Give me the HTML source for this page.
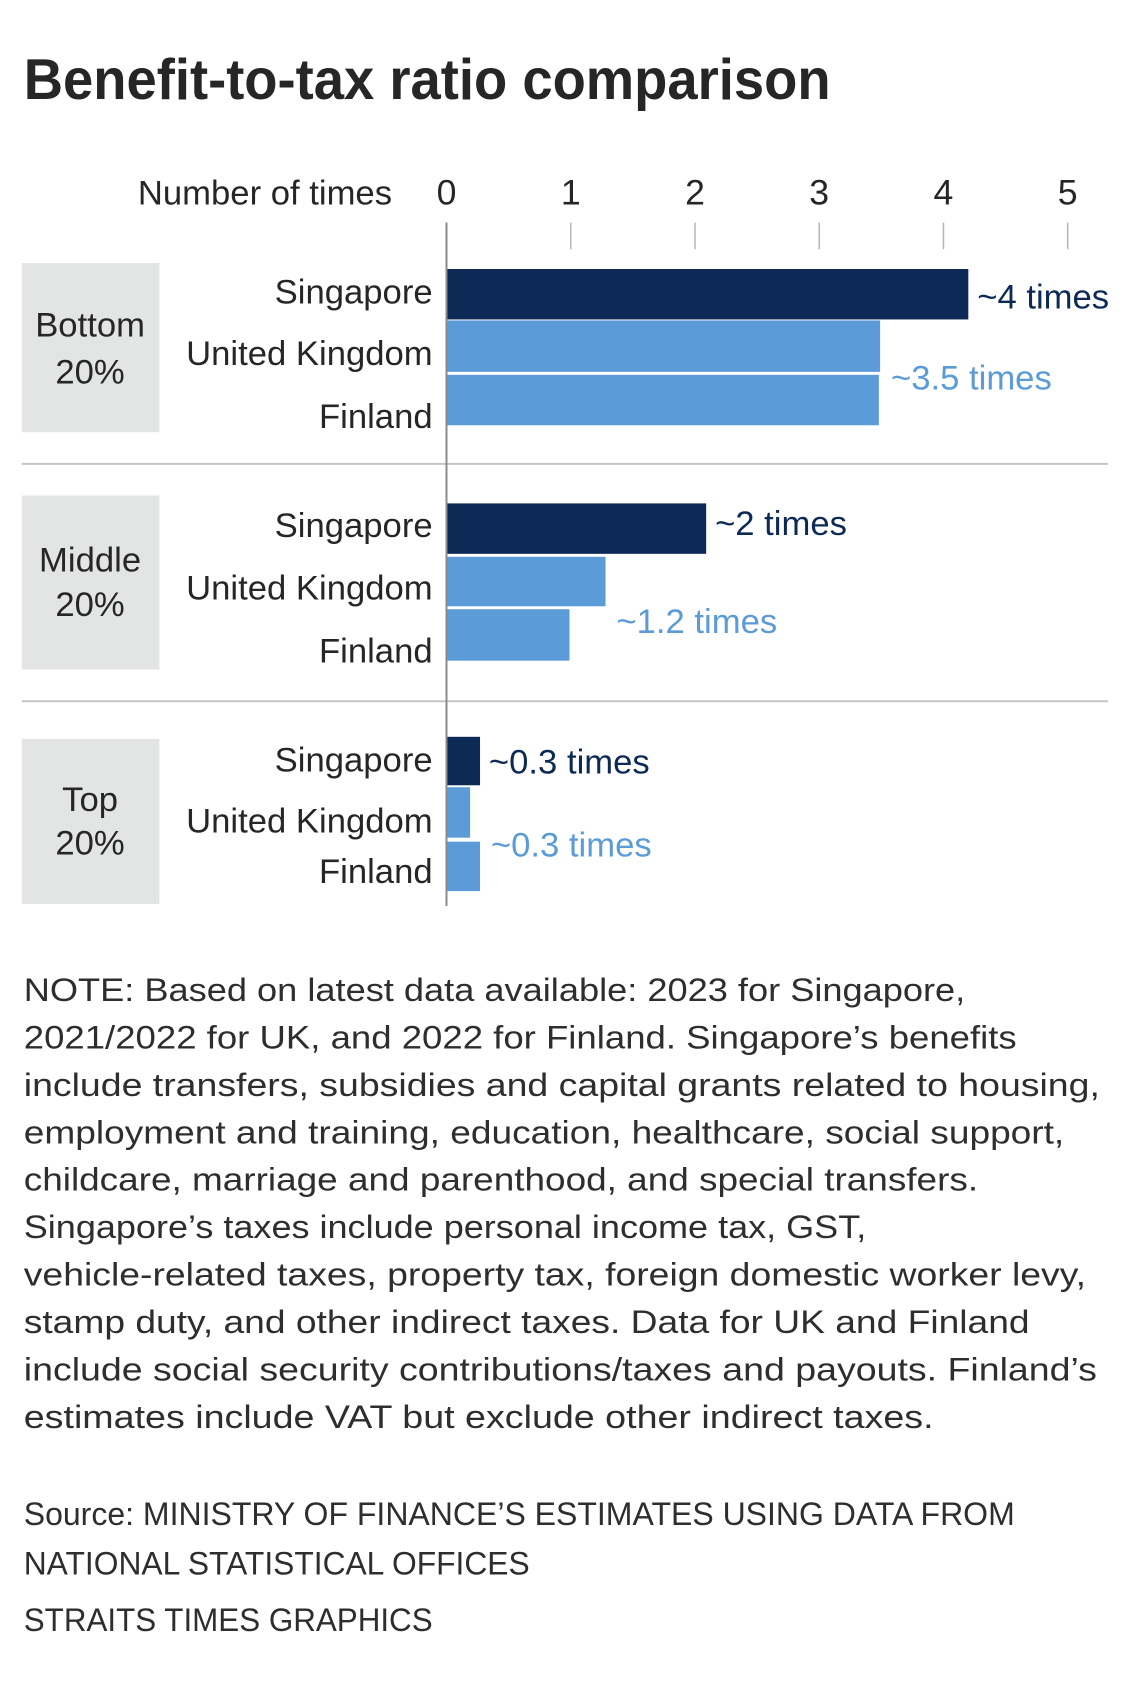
<!DOCTYPE html>
<html><head><meta charset="utf-8"><style>
html,body{margin:0;padding:0;background:#fff;}
svg{display:block;font-family:"Liberation Sans",sans-serif;}
</style></head><body>
<svg id="chart" width="1140" height="1686" viewBox="0 0 1140 1686">
<g transform="scale(0.99,0.989)">
<text x="24" y="100" font-size="58" font-weight="bold" fill="#262626" textLength="815" lengthAdjust="spacingAndGlyphs">Benefit-to-tax ratio comparison</text>
<text x="396" y="207" font-size="35" fill="#262626" text-anchor="end">Number of times</text>
<g id="axis"></g>
<g id="groups"></g>
<g id="bars"></g>
<g id="note" font-size="33" fill="#2e2e2e">
<text x="24" y="1012" textLength="951" lengthAdjust="spacingAndGlyphs">NOTE: Based on latest data available: 2023 for Singapore,</text>
<text x="24" y="1060" textLength="1003" lengthAdjust="spacingAndGlyphs">2021/2022 for UK, and 2022 for Finland. Singapore’s benefits</text>
<text x="24" y="1108" textLength="1087" lengthAdjust="spacingAndGlyphs">include transfers, subsidies and capital grants related to housing,</text>
<text x="24" y="1156" textLength="1051" lengthAdjust="spacingAndGlyphs">employment and training, education, healthcare, social support,</text>
<text x="24" y="1204" textLength="964" lengthAdjust="spacingAndGlyphs">childcare, marriage and parenthood, and special transfers.</text>
<text x="24" y="1252" textLength="851" lengthAdjust="spacingAndGlyphs">Singapore’s taxes include personal income tax, GST,</text>
<text x="24" y="1300" textLength="1073" lengthAdjust="spacingAndGlyphs">vehicle-related taxes, property tax, foreign domestic worker levy,</text>
<text x="24" y="1348" textLength="1016" lengthAdjust="spacingAndGlyphs">stamp duty, and other indirect taxes. Data for UK and Finland</text>
<text x="24" y="1396" textLength="1084" lengthAdjust="spacingAndGlyphs">include social security contributions/taxes and payouts. Finland’s</text>
<text x="24" y="1444" textLength="919" lengthAdjust="spacingAndGlyphs">estimates include VAT but exclude other indirect taxes.</text>
</g>
<g font-size="33" fill="#2e2e2e">
<text x="24" y="1542" textLength="1001" lengthAdjust="spacingAndGlyphs">Source: MINISTRY OF FINANCE’S ESTIMATES USING DATA FROM</text>
<text x="24" y="1592" textLength="511" lengthAdjust="spacingAndGlyphs">NATIONAL STATISTICAL OFFICES</text>
<text x="24" y="1649" textLength="413" lengthAdjust="spacingAndGlyphs">STRAITS TIMES GRAPHICS</text>
</g>
</g>
</svg>
<script>
const ticks=[0,1,2,3,4,5];
const groupNames=[["Bottom","20%"],["Middle","20%"],["Top","20%"]];
const countries=["Singapore","United Kingdom","Finland"];
const valSingapore=[4.2,2.09,0.27];
const valUK=[3.49,1.28,0.19];
const valFinland=[3.48,0.99,0.27];
const labelDark=["~4 times","~2 times","~0.3 times"];
const labelLight=["~3.5 times","~1.2 times","~0.3 times"];

const NS="http://www.w3.org/2000/svg";
const X0=451,UNIT=125.5;
const x=v=>X0+v*UNIT;
function mk(tag,attrs,parent,txt){const e=document.createElementNS(NS,tag);for(const k in attrs)e.setAttribute(k,attrs[k]);if(txt!==undefined)e.textContent=txt;parent.appendChild(e);return e;}
const axis=document.getElementById('axis'),groups=document.getElementById('groups'),bars=document.getElementById('bars');
ticks.forEach(t=>{
  const lb=mk('text',{x:x(t),y:207,'font-size':36,fill:'#262626','text-anchor':'middle'},axis,String(t));
  
  
  if(t>0){const tl=mk('line',{x1:x(t),x2:x(t),y1:225,y2:252,stroke:'#b5b5b5','stroke-width':1.5},axis);
  
  }
});
const boxTop=[266,501,747],boxBot=[437,677,914];
const barTops=[[272,324,379],[509,563,616],[745,796,851]];
const barBots=[[323,376,430],[560,613,668],[794,847,901]];
const cLabelY=[[307,369,433],[543,606,670],[780,842,893]];
const gLabelY=[[340,388],[578,623],[820,864]];
const darkLY=[312,541,782],lightLY=[394,640,866];
const seps=[469,709];
seps.forEach((y,i)=>{const s=mk('line',{x1:22,x2:1119,y1:y,y2:y,stroke:'#c4c4c4','stroke-width':2},groups);

});
const series=[valSingapore,valUK,valFinland];
const cols=['#0d2a56','#5b9bd8','#5b9bd8'];
for(let g=0;g<3;g++){
  const b=mk('rect',{x:22,y:boxTop[g],width:139,height:boxBot[g]-boxTop[g],fill:'#e3e5e4'},groups);
  
  
  groupNames[g].forEach((n,j)=>{const t=mk('text',{x:91,y:gLabelY[g][j],'font-size':35,fill:'#262626','text-anchor':'middle'},groups,n);
  
  });
  for(let c=0;c<3;c++){
    const lt=mk('text',{x:437,y:cLabelY[g][c],'font-size':35,fill:'#262626','text-anchor':'end'},groups,countries[c]);
    
    
    const v=series[c][g];
    const r=mk('rect',{x:X0,y:barTops[g][c],width:x(v)-X0,height:barBots[g][c]-barTops[g][c],fill:cols[c]},bars);
    
    
  }
  const d=mk('text',{x:x(valSingapore[g])+9,y:darkLY[g],'font-size':35,fill:'#0d2a56'},bars,labelDark[g]);
  
  
  const l=mk('text',{x:x(Math.max(valUK[g],valFinland[g]))+11,y:lightLY[g],'font-size':35,fill:'#5b9bd8'},bars,labelLight[g]);
  
  
}
const al=mk('line',{x1:X0,x2:X0,y1:225,y2:916,stroke:'#8a8a8a','stroke-width':2},bars);


</script>
</body></html>
